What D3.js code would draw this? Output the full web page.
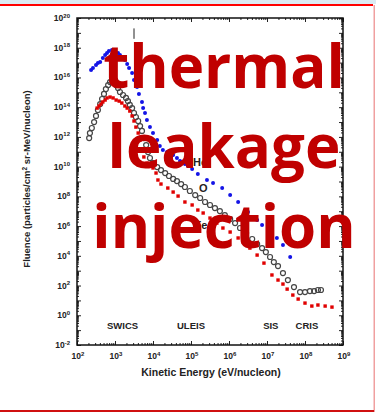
<!DOCTYPE html>
<html>
<head>
<meta charset="utf-8">
<script src="https://cdn.jsdelivr.net/npm/d3@7"></script>
<style>
body { margin: 0; background: #fff; }
svg { display: block; font-family: Arial, "Liberation Sans", sans-serif; }
</style>
</head>
<body>
<div id="chart"></div>
<script>
// log10 of kinetic energy (eV/nucleon) and log10 of fluence
var heLogE = [2.37,2.42,2.50,2.55,2.61,2.68,2.74,2.79,2.84,2.92,3.00,3.08,3.13,3.18,3.26,3.32,3.37,3.45,3.50,3.58,
  3.63,3.71,3.74,3.79,3.84,3.92,4.00,4.11,4.18,4.26,4.37,4.45,4.53,4.63,4.71,4.76,4.84,4.92,5.03,
  5.18,5.42,5.58,5.82,6.03,6.24,6.50,6.74,6.87,7.08,7.26,7.42,7.61];
var heLogF = [16.50,16.64,16.84,16.97,17.04,17.31,17.51,17.64,17.78,17.85,17.78,17.64,17.51,17.38,17.17,16.90,16.64,16.30,15.83,15.36,
  14.89,14.35,13.94,13.61,13.14,12.66,12.26,11.79,11.39,11.12,10.98,10.92,10.78,10.58,10.38,10.31,10.17,10.04,9.84,
  9.50,9.10,8.90,8.56,8.09,7.62,6.94,6.41,6.07,5.60,5.20,4.72,3.92];

var oLogE = [2.32,2.34,2.39,2.45,2.50,2.55,2.61,2.66,2.71,2.76,2.82,2.87,2.92,
  2.97,3.03,3.08,3.13,3.21,3.29,3.34,3.39,3.45,3.50,3.55,3.61,3.66,3.71,3.76,3.82,3.87,3.92,4.00,4.11,
  4.21,4.32,4.42,4.53,4.63,4.74,4.84,4.97,5.11,5.24,5.37,5.50,5.63,5.76,5.89,6.03,6.16,6.29,6.45,6.61,
  6.74,6.87,6.97,7.08,7.18,7.29,7.42,7.55,7.71,7.87,8.00,8.13,8.24,8.34,8.42];
var oLogF = [11.92,12.26,12.60,13.00,13.41,13.81,14.21,14.55,14.89,15.22,15.49,15.69,15.83,
  15.69,15.49,15.29,15.02,14.82,14.62,14.41,14.15,13.94,13.61,13.34,13.07,12.73,12.40,11.92,11.45,10.98,10.58,10.24,9.97,
  9.77,9.57,9.37,9.17,9.03,8.83,8.63,8.36,8.09,7.89,7.62,7.42,7.21,7.01,6.74,6.47,6.20,5.87,5.53,5.13,
  4.79,4.52,4.25,3.92,3.58,3.31,2.84,2.37,1.90,1.56,1.56,1.63,1.63,1.70,1.70];

var feLogE = [2.53,2.58,2.63,2.68,2.74,2.79,2.87,2.95,3.03,3.11,3.18,3.26,3.32,3.39,3.45,3.50,3.55,3.61,3.66,3.71,
  3.76,3.84,3.92,4.00,4.08,4.13,4.21,
  4.39,4.53,4.66,4.84,5.03,5.18,5.32,5.50,5.68,5.84,6.03,6.24,6.37,6.55,6.74,6.92,7.13,7.29,7.42,7.53,
  7.68,7.82,8.00,8.18,8.34,8.53,8.71];
var feLogF = [13.94,14.08,14.21,14.35,14.48,14.62,14.68,14.62,14.48,14.41,14.28,14.08,13.94,13.74,13.41,13.07,12.66,12.26,11.79,11.12,
  10.65,10.24,10.04,9.91,9.57,9.10,8.83,
  8.56,8.29,8.02,7.62,7.42,7.08,6.88,6.54,6.20,5.87,5.60,5.20,4.93,4.52,4.05,3.51,2.71,2.37,2.10,1.76,
  1.36,1.09,0.82,0.62,0.69,0.62,0.55];

var xTickExp = [2,3,4,5,6,7,8,9];
var yTickExp = [-2,0,2,4,6,8,10,12,14,16,18,20];
var instruments = ["SWICS","ULEIS","SIS","CRIS"];
var instrumentLogE = [3.2,5.0,7.1,8.05];
var species = ["He","O","Fe"];
var speciesLogE = [5.24,5.32,5.26];
var speciesLogF = [10.31,8.56,6.07];
var overlayWords = ["thermal","leakage","injection"];

var width = 376, height = 412;

var svg = d3.select("#chart")
  .append("svg")
  .attr("width", width)
  .attr("height", height);

// slide frame
svg.append("rect").attr("x", 0).attr("y", 0).attr("width", width).attr("height", 4).attr("fill", "#dcebf3");
svg.append("rect").attr("x", 0).attr("y", 4).attr("width", 373).attr("height", 2).attr("fill", "#ff0000");
svg.append("rect").attr("x", 373.5).attr("y", 5).attr("width", 1.5).attr("height", height - 5).attr("fill", "#f0a0a0");
svg.append("rect").attr("x", 0).attr("y", 410).attr("width", 374).attr("height", 2).attr("fill", "#d01010");

var x = d3.scaleLog().domain([1e2, 1e9]).range([77, 343]);
var y = d3.scaleLog().domain([1e-2, 1e20]).range([345, 18]);

var xMajor = d3.range(2, 10).map(function(e) { return Math.pow(10, e); });
var yMajor = d3.range(-2, 21).map(function(e) { return Math.pow(10, e); });
var xMinor = [], yMinor = [];
d3.range(2, 9).forEach(function(e) {
  for (var k = 2; k < 10; k++) xMinor.push(k * Math.pow(10, e));
});
d3.range(-2, 20).forEach(function(e) {
  for (var k = 2; k < 10; k++) yMinor.push(k * Math.pow(10, e));
});

var axisG = svg.append("g").attr("stroke-width", 1);

function drawAxis(axis, ty, tx) {
  var g = axisG.append("g").attr("transform", "translate(" + (tx || 0) + "," + (ty || 0) + ")").call(axis);
  g.select(".domain").remove();
  g.selectAll("line").attr("stroke", "#222");
  return g;
}

// inward ticks on all four sides
drawAxis(d3.axisBottom(x).tickValues(xMajor).tickSize(-4).tickFormat(""), 345);
drawAxis(d3.axisBottom(x).tickValues(xMinor).tickSize(-2).tickFormat(""), 345);
drawAxis(d3.axisTop(x).tickValues(xMajor).tickSize(-4).tickFormat(""), 18);
drawAxis(d3.axisTop(x).tickValues(xMinor).tickSize(-2).tickFormat(""), 18);
drawAxis(d3.axisLeft(y).tickValues(yMajor).tickSize(-4).tickFormat(""), 0, 77);
drawAxis(d3.axisLeft(y).tickValues(yMinor).tickSize(-2).tickFormat(""), 0, 77);
drawAxis(d3.axisRight(y).tickValues(yMajor).tickSize(-4).tickFormat(""), 0, 343);
drawAxis(d3.axisRight(y).tickValues(yMinor).tickSize(-2).tickFormat(""), 0, 343);

svg.append("rect")
  .attr("x", x(1e2)).attr("y", y(1e20))
  .attr("width", x(1e9) - x(1e2)).attr("height", y(1e-2) - y(1e20))
  .attr("fill", "none").attr("stroke", "#111").attr("stroke-width", 1.5);

// tick labels
function powerLabel(sel) {
  sel.text("10")
    .append("tspan")
    .attr("dy", -3.5)
    .attr("font-size", 6)
    .text(function(d) { return d; });
}

svg.append("g").selectAll("text")
  .data(xTickExp)
  .enter()
  .append("text")
  .attr("x", function(d) { return x(Math.pow(10, d)) + 1; })
  .attr("y", 359)
  .attr("text-anchor", "middle")
  .attr("font-size", 8.5)
  .attr("font-weight", "bold")
  .attr("fill", "#222")
  .call(powerLabel);

svg.append("g").selectAll("text")
  .data(yTickExp)
  .enter()
  .append("text")
  .attr("x", 70)
  .attr("y", function(d) { return y(Math.pow(10, d)) + 3; })
  .attr("text-anchor", "end")
  .attr("font-size", 8.5)
  .attr("font-weight", "bold")
  .attr("fill", "#222")
  .call(powerLabel);

// axis titles
svg.append("text")
  .attr("x", 211).attr("y", 376)
  .attr("text-anchor", "middle")
  .attr("font-size", 10.5).attr("font-weight", "bold").attr("fill", "#222")
  .text("Kinetic Energy (eV/nucleon)");

var yTitle = svg.append("text")
  .attr("transform", "translate(30,179) rotate(-90)")
  .attr("text-anchor", "middle")
  .attr("font-size", 9.5).attr("font-weight", "bold").attr("fill", "#222");
yTitle.append("tspan").text("Fluence (particles/cm");
yTitle.append("tspan").attr("dy", -3.5).attr("font-size", 6.5).text("2");
yTitle.append("tspan").attr("dy", 3.5).text(" sr-MeV/nucleon)");

// instrument names
svg.append("g").selectAll("text")
  .data(instruments)
  .enter()
  .append("text")
  .attr("x", function(d, i) { return x(Math.pow(10, instrumentLogE[i])); })
  .attr("y", 329)
  .attr("text-anchor", "middle")
  .attr("font-size", 9.5).attr("font-weight", "bold").attr("fill", "#222")
  .text(function(d) { return d; });

// stray tick near top of the original figure
svg.append("line")
  .attr("x1", x(Math.pow(10, 3.5))).attr("x2", x(Math.pow(10, 3.5)))
  .attr("y1", y(Math.pow(10, 19.3))).attr("y2", y(Math.pow(10, 18.6)))
  .attr("stroke", "#222").attr("stroke-width", 1);

// O: open circles
svg.append("g").selectAll("circle")
  .data(d3.zip(oLogE, oLogF))
  .enter()
  .append("circle")
  .attr("cx", function(d) { return x(Math.pow(10, d[0])); })
  .attr("cy", function(d) { return y(Math.pow(10, d[1])); })
  .attr("r", 2.5)
  .attr("fill", "none")
  .attr("stroke", "#444")
  .attr("stroke-width", 1.2);

// Fe: filled squares
svg.append("g").selectAll("rect")
  .data(d3.zip(feLogE, feLogF))
  .enter()
  .append("rect")
  .attr("x", function(d) { return x(Math.pow(10, d[0])) - 1.7; })
  .attr("y", function(d) { return y(Math.pow(10, d[1])) - 1.7; })
  .attr("width", 3.4).attr("height", 3.4)
  .attr("fill", "#e00000");

// He: filled dots
svg.append("g").selectAll("circle")
  .data(d3.zip(heLogE, heLogF))
  .enter()
  .append("circle")
  .attr("cx", function(d) { return x(Math.pow(10, d[0])); })
  .attr("cy", function(d) { return y(Math.pow(10, d[1])); })
  .attr("r", 2)
  .attr("fill", "#1414e6");

// species labels
svg.append("g").selectAll("text")
  .data(species)
  .enter()
  .append("text")
  .attr("x", function(d, i) { return x(Math.pow(10, speciesLogE[i])); })
  .attr("y", function(d, i) { return y(Math.pow(10, speciesLogF[i])) + 4; })
  .attr("text-anchor", "middle")
  .attr("font-size", 11).attr("font-weight", "bold").attr("fill", "#222")
  .text(function(d) { return d; });

// big overlay words
svg.append("g").selectAll("text")
  .data(overlayWords)
  .enter()
  .append("text")
  .attr("x", 224)
  .attr("y", function(d, i) { return 88 + i * 80; })
  .attr("text-anchor", "middle")
  .attr("font-family", "'Open Sans', 'Noto Sans', sans-serif")
  .attr("font-size", 60)
  .attr("font-weight", "bold")
  .attr("fill", "#c00000")
  .text(function(d) { return d; });
</script>
</body>
</html>
